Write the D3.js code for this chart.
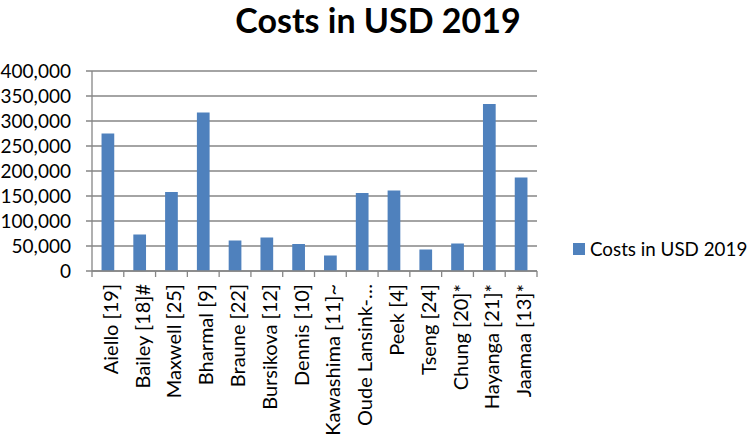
<!DOCTYPE html>
<html>
<head>
<meta charset="utf-8">
<script src="https://cdn.jsdelivr.net/npm/d3@7"></script>
<style>
html,body{margin:0;padding:0;background:#fff;}
svg{display:block;}
</style>
</head>
<body>
<svg id="chart" width="749" height="437"></svg>
<script>
const categories = ["Aiello [19]","Bailey [18]#","Maxwell [25]","Bharmal [9]","Braune [22]","Bursikova [12]","Dennis [10]","Kawashima [11]~","Oude Lansink-…","Peek [4]","Tseng [24]","Chung [20]*","Hayanga [21]*","Jaamaa [13]*"];
const costs = [275000,73000,158000,317000,61000,67000,54000,31000,156000,161000,43000,55000,334000,187000];
const yTicks = [0,50000,100000,150000,200000,250000,300000,350000,400000];
const seriesName = "Costs in USD 2019";
const title = "Costs in USD 2019";

const svg = d3.select("#chart");
const font = "Lato, 'Open Sans', sans-serif";
const margin = {left:92, right:537, top:71, bottom:271};

const x = d3.scaleBand().domain(categories).range([margin.left, margin.right]).paddingInner(0.6).paddingOuter(0.3);
const xb = d3.scaleBand().domain(categories).range([margin.left, margin.right]);
const y = d3.scaleLinear().domain([0,400000]).range([margin.bottom, margin.top]);

// gridlines
svg.append("g").selectAll("line").data(yTicks).join("line")
  .attr("x1", margin.left-6).attr("x2", margin.right)
  .attr("y1", d=>y(d)).attr("y2", d=>y(d))
  .attr("stroke", "#868686").attr("stroke-width", 1.3);

// y axis line
svg.append("line").attr("x1", margin.left).attr("x2", margin.left)
  .attr("y1", margin.top).attr("y2", margin.bottom)
  .attr("stroke","#868686").attr("stroke-width",1.3);

// y labels
svg.append("g").selectAll("text").data(yTicks).join("text")
  .attr("x", 71).attr("y", d=>y(d)).attr("dy","0.35em")
  .attr("text-anchor","end").attr("font-family",font).attr("font-size",19)
  .attr("fill","#000").text(d=>d3.format(",")(d));

// bars
svg.append("g").selectAll("rect").data(costs).join("rect")
  .attr("x",(d,i)=>x(categories[i])).attr("width",x.bandwidth())
  .attr("y",d=>y(d)).attr("height",d=>y(0)-y(d))
  .attr("fill","#4F81BD");

// x axis
svg.append("line").attr("x1", margin.left).attr("x2", margin.right)
  .attr("y1", margin.bottom).attr("y2", margin.bottom)
  .attr("stroke","#868686").attr("stroke-width",1.3);
const tickXs = categories.map(c=>xb(c)).concat([margin.right]);
svg.append("g").selectAll("line").data(tickXs).join("line")
  .attr("x1",d=>d).attr("x2",d=>d).attr("y1",margin.bottom).attr("y2",margin.bottom+6)
  .attr("stroke","#868686").attr("stroke-width",1.3);

// x labels
svg.append("g").selectAll("text").data(categories).join("text")
  .attr("transform", d=>`translate(${xb(d)+xb.bandwidth()/2+3},284) rotate(-90)`)
  .attr("dy","0.35em").attr("text-anchor","end")
  .attr("font-family",font).attr("font-size",20).attr("fill","#000").text(d=>d);

// title
svg.append("text").attr("x",378).attr("y",33).attr("text-anchor","middle")
  .attr("font-family",font).attr("font-weight","bold").attr("font-size",34)
  .attr("fill","#000").text(title);

// legend
svg.append("rect").attr("x",573).attr("y",243).attr("width",12).attr("height",12).attr("fill","#4F81BD");
svg.append("text").attr("x",590).attr("y",249).attr("dy","0.35em")
  .attr("font-family",font).attr("font-size",18.8).attr("fill","#000").text(seriesName);
</script>
</body>
</html>
